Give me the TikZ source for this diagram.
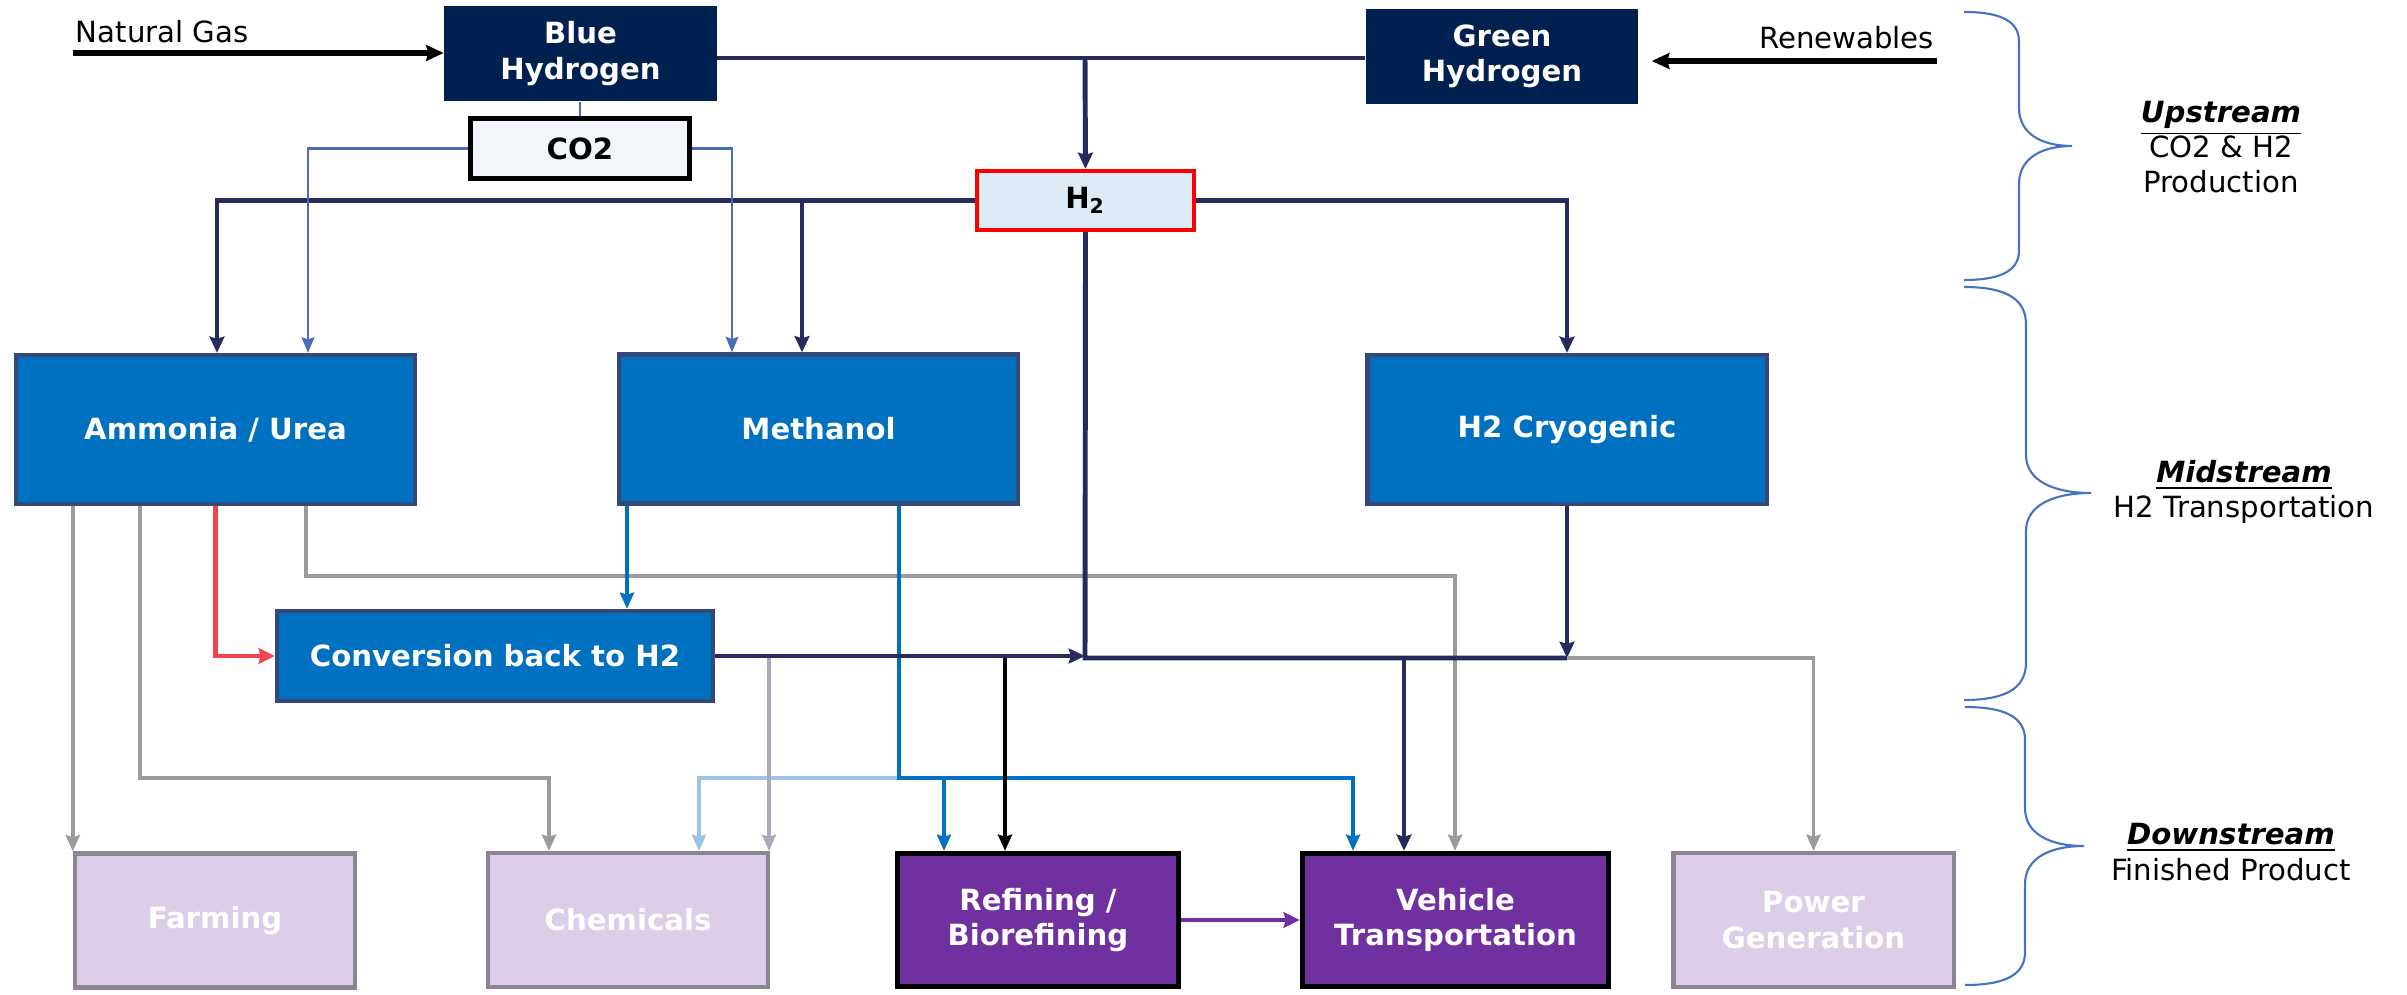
\documentclass[tikz,border=0pt]{standalone}
\usepackage{fontspec}
\setmainfont{DejaVu Sans}
\usepackage{tikz}
\usepackage{xcolor}
\usetikzlibrary{arrows.meta}
\definecolor{navy}{HTML}{002050}
\definecolor{navyline}{HTML}{272A5C}
\definecolor{midblue}{HTML}{0070C0}
\definecolor{slate}{HTML}{34497A}
\definecolor{lilac}{HTML}{DCCEE8}
\definecolor{lilacedge}{HTML}{8C8593}
\definecolor{grape}{HTML}{7030A0}
\definecolor{icefill}{HTML}{DDEBF7}
\definecolor{co2fill}{HTML}{F2F6FB}
\definecolor{thinblue}{HTML}{4A6CB8}
\definecolor{pipegray}{HTML}{9B9B9B}
\definecolor{mist}{HTML}{A9A9BD}
\definecolor{skyblue}{HTML}{9DC3E6}
\definecolor{hotred}{HTML}{F4424A}
\definecolor{braceblue}{HTML}{4472C4}
\tikzstyle{darkbox} = [rectangle, minimum width=2.72cm, minimum height=0.95cm, inner sep=0pt, text centered, align=center, fill=navy, text=white, font=\fontsize{8.3}{10}\selectfont\bfseries]
\tikzstyle{midbox} = [rectangle, minimum width=3.99cm, minimum height=1.49cm, inner sep=0pt, text centered, align=center, draw=slate, line width=1.2pt, fill=midblue, text=white, font=\fontsize{8.3}{10}\selectfont\bfseries]
\tikzstyle{palebox} = [rectangle, minimum width=2.80cm, minimum height=1.34cm, inner sep=0pt, text centered, align=center, draw=lilacedge, line width=1.2pt, fill=lilac, text=white, font=\fontsize{8.3}{10}\selectfont\bfseries]
\tikzstyle{productbox} = [rectangle, minimum width=2.81cm, minimum height=1.33cm, inner sep=0pt, text centered, align=center, draw=black, line width=1.5pt, fill=grape, text=white, font=\fontsize{8.3}{10}\selectfont\bfseries]
\tikzstyle{sidetext} = [align=center, font=\fontsize{8.3}{10}\selectfont]
\tikzstyle{arrow} = [line width=1.7pt,->,>={Stealth[length=5pt,width=4.5pt,inset=0.6pt]}]
\tikzstyle{navyarrow} = [line width=1.4pt, draw=navyline, ->, >={Stealth[length=4.6pt,width=4.2pt,inset=0.6pt]}]
\tikzstyle{navypipe} = [line width=1.4pt, draw=navyline]
\tikzstyle{thinarrow} = [line width=0.6pt, draw=thinblue, ->, >={Stealth[length=4.4pt,width=3.6pt,inset=0.6pt]}]
\tikzstyle{grayarrow} = [line width=1.1pt, draw=pipegray, ->, >={Stealth[length=4.6pt,width=4pt,inset=0.6pt]}]
\tikzstyle{bluearrow} = [line width=1.1pt, draw=midblue, ->, >={Stealth[length=4.6pt,width=4pt,inset=0.6pt]}]
\tikzstyle{curly} = [draw=braceblue, line width=0.6pt]

\begin{document}
\begin{tikzpicture}[x=0.01cm, y=-0.01cm]
    \useasboundingbox (0,0) rectangle (2407,995);

    % upstream
    \node (blueH) [darkbox] at (580.5,53.5) {Blue\\Hydrogen};
    \node (greenH) [darkbox] at (1502,56.5) {Green\\Hydrogen};
    \node (co2) [rectangle, minimum width=2.19cm, minimum height=0.60cm, draw=black, line width=1.5pt, fill=co2fill, font=\fontsize{8.3}{10}\selectfont\bfseries] at (580,148.5) {CO2};
    \node (h2) [rectangle, minimum width=2.17cm, minimum height=0.59cm, draw=red, line width=1.2pt, fill=icefill, font=\fontsize{8.3}{10}\selectfont\bfseries] at (1085.5,200.5) {H\textsubscript{2}};
    \coordinate (gas) at (73,53);
    \coordinate (wind) at (1937,61);

    % midstream
    \node (ammonia) [midbox] at (215.5,429.5) {Ammonia / Urea};
    \node (methanol) [midbox] at (818.5,429) {Methanol};
    \node (cryo) [midbox] at (1567,429.5) {H2 Cryogenic};
    \node (conv) [midbox, minimum width=4.36cm, minimum height=0.90cm] at (495,656) {Conversion back to H2};

    % downstream
    \node (farming) [palebox] at (215,920.5) {Farming};
    \node (chemicals) [palebox] at (628,920) {Chemicals};
    \node (refining) [productbox] at (1038,920) {Refining /\\Biorefining};
    \node (vehicle) [productbox, minimum width=3.06cm] at (1455.5,920) {Vehicle\\Transportation};
    \node (power) [palebox] at (1813.5,920) {Power\\Generation};

    % bends and junctions
    \coordinate (jtop) at (1085,58);
    \coordinate (jl) at (217,202);
    \coordinate (jm) at (802,202);
    \coordinate (cl) at (308,148);
    \coordinate (cr) at (732,148);
    \coordinate (ga) at (140,778);
    \coordinate (gb) at (549,778);
    \coordinate (gc) at (306,576);
    \coordinate (gd) at (1455,576);
    \coordinate (ma) at (627,560);
    \coordinate (mc) at (899,778);
    \coordinate (md) at (1353,778);
    \coordinate (me) at (944,778);
    \coordinate (lb) at (699,778);
    \coordinate (jn) at (1085,658);
    \coordinate (jc) at (1567,658);
    \coordinate (ka) at (1005,656);
    \coordinate (kb) at (769,656);
    \coordinate (va) at (1404,658);

    \draw [arrow] (gas) -- node[pos=0, anchor=south west, inner sep=0pt, yshift=2pt, font=\fontsize{8.3}{10}\selectfont] {Natural Gas} (blueH.west |- gas);
    \draw [arrow] (wind) -- node[pos=0, anchor=south east, inner sep=0pt, yshift=2.5pt, font=\fontsize{8.3}{10}\selectfont] {Renewables} ([xshift=0.13cm]greenH.east |- wind);

    \draw [navypipe] (blueH.east |- jtop) -- (greenH.west |- jtop);
    \draw [navyarrow] (jtop) -- (h2.north);
    \draw [navyarrow] (h2.west) -| (jl |- ammonia.north);
    \draw [navyarrow] (jm) -- (jm |- methanol.north);
    \draw [navyarrow] (h2.east) -| (cryo.north);

    \draw [line width=0.6pt, draw=thinblue] (blueH.south -| co2.north) -- (co2.north);
    \draw [thinarrow] (co2.west) -| (cl |- ammonia.north);
    \draw [thinarrow] (co2.east) -| (cr |- methanol.north);

    \draw [grayarrow] (ammonia.south -| farming.north west) -- (farming.north west);
    \draw [grayarrow] (ammonia.south -| ga) -- (ga) -- (gb) -- (gb |- chemicals.north);
    \draw [line width=1.2pt, draw=hotred, ->, >={Stealth[length=4.6pt,width=4.4pt,inset=0.6pt]}] (ammonia.south) |- (conv.west);
    \draw [grayarrow, line width=1.3pt] (ammonia.south -| gc) -- (gc) -- (gd) -- (gd |- vehicle.north);

    \draw [bluearrow] (methanol.south -| ma) -- (ma |- conv.north);
    \draw [line width=1.1pt, draw=skyblue, ->, >={Stealth[length=4.6pt,width=4pt,inset=0.6pt]}] (mc) -- (lb) -- (lb |- chemicals.north);
    \draw [bluearrow] (methanol.south -| mc) -- (mc) -- (md) -- (md |- vehicle.north);
    \draw [bluearrow] (me) -- (me |- refining.north);

    \draw [line width=1.1pt, draw=mist, ->, >={Stealth[length=4.6pt,width=4pt,inset=0.6pt]}] (kb) -- (kb |- chemicals.north);
    \draw [line width=1.1pt, ->, >={Stealth[length=4.6pt,width=4pt,inset=0.6pt]}] (ka) -- (ka |- refining.north);
    \draw [navyarrow] (conv.east) -- (conv.east -| jn);

    \draw [navypipe] (h2.south) -- (jn) -- (jc);
    \draw [navyarrow] (cryo.south) -- (jc);
    \draw [navyarrow] (va) -- (va |- vehicle.north);
    \draw [grayarrow] (jc) -| (power.north);

    \draw [line width=1.2pt, draw=grape, ->, >={Stealth[length=4.6pt,width=4.4pt,inset=0.6pt]}] (refining.east) -- (vehicle.west);

    % stream braces
    \draw [curly] (1964,12) .. controls (2006,12) and (2019,24) .. (2019,42) -- (2019,108) .. controls (2019,134) and (2042,146) .. (2072,146) .. controls (2042,146) and (2019,158) .. (2019,184) -- (2019,250) .. controls (2019,268) and (2006,280) .. (1964,280);
    \draw [curly] (1964,287) .. controls (2011,287) and (2026,302) .. (2026,325) -- (2026,455) .. controls (2026,481) and (2054,493) .. (2091,493) .. controls (2054,493) and (2026,505) .. (2026,531) -- (2026,662) .. controls (2026,685) and (2011,700) .. (1964,700);
    \draw [curly] (1965,707) .. controls (2010,707) and (2025,720) .. (2025,740) -- (2025,808) .. controls (2025,834) and (2050,846) .. (2084,846) .. controls (2050,846) and (2025,858) .. (2025,884) -- (2025,952) .. controls (2025,972) and (2010,985) .. (1965,985);
    \node (upLabel) [sidetext] at (2221,147) {\textbf{\textit{\underline{Upstream}}}\\CO2 \& H2\\Production};
    \node (midLabel) [sidetext] at (2244,492) {\textbf{\textit{\underline{Midstream}}}\\H2 Transportation};
    \node (downLabel) [sidetext] at (2231,852) {\textbf{\textit{\underline{Downstream}}}\\Finished Product};
\end{tikzpicture}
\end{document}
